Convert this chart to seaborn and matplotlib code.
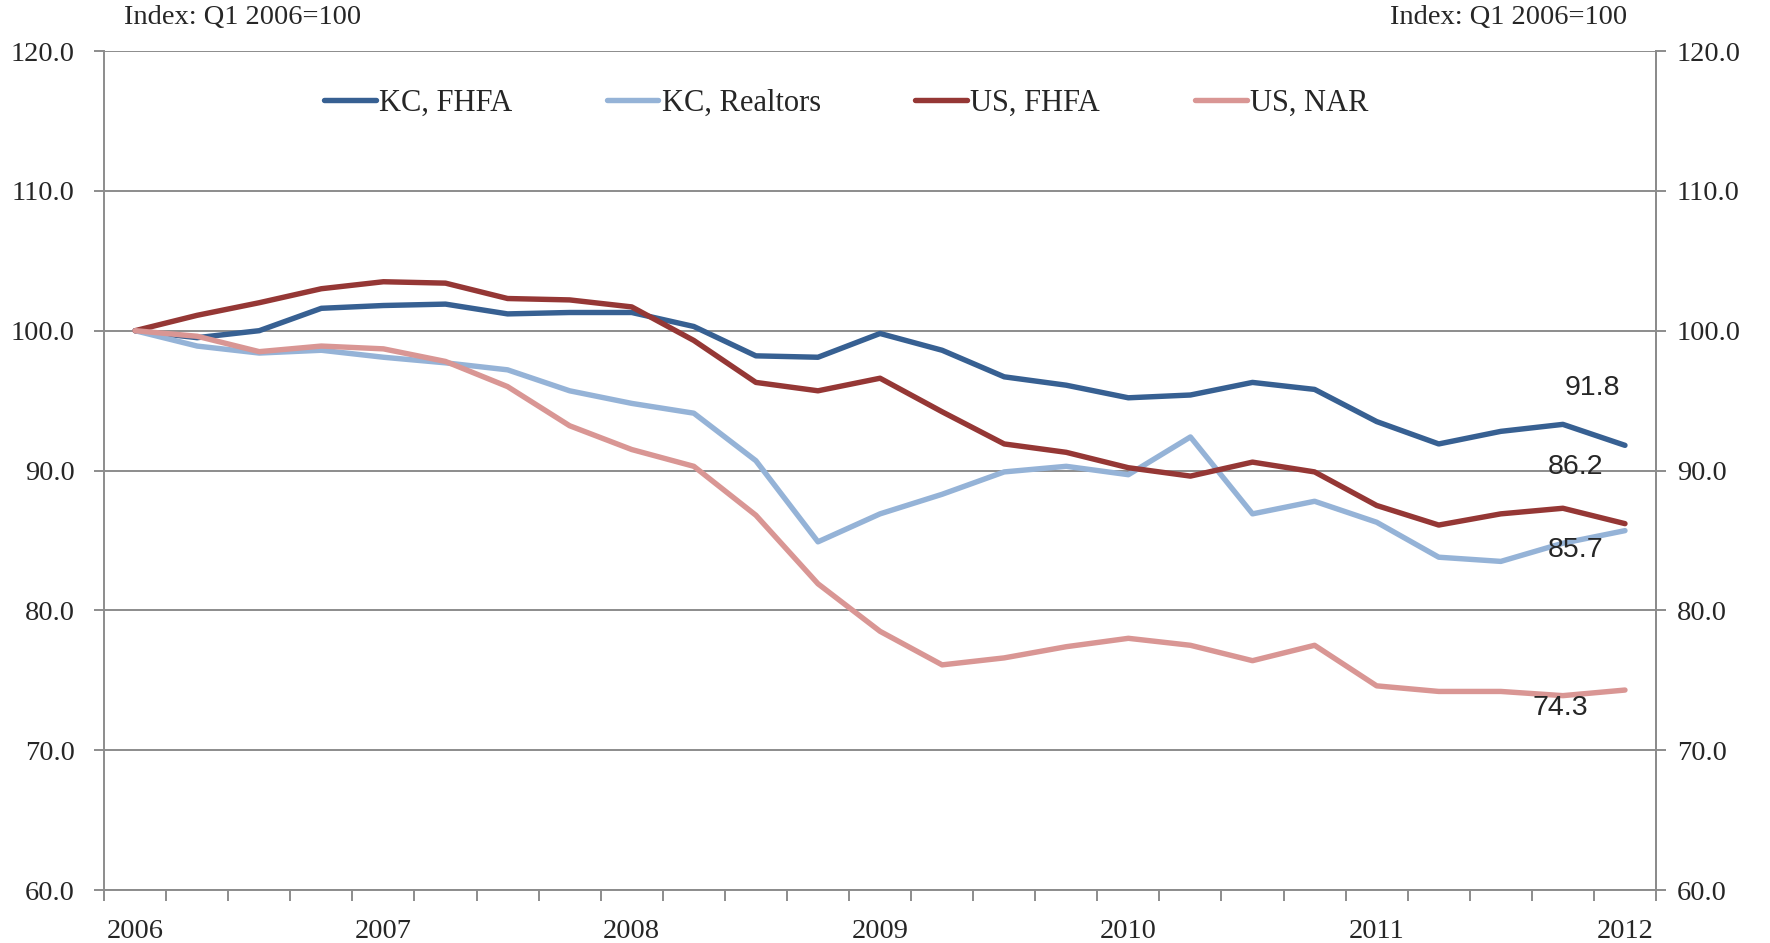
"""Kansas City vs US house price indexes, Q1 2006 = 100."""

import numpy as np
import pandas as pd
import matplotlib
matplotlib.use("Agg")
import matplotlib.pyplot as plt
import seaborn as sns
from matplotlib.ticker import FixedLocator, FormatStrFormatter

# quarterly, Q1 2006 .. Q1 2012
quarters = [f"{y} Q{q}" for y in range(2006, 2012) for q in range(1, 5)] + ["2012 Q1"]
years = ["2006", "2007", "2008", "2009", "2010", "2011", "2012"]

kc_fhfa = [100.0, 99.5, 100.0, 101.6, 101.8, 101.9, 101.2, 101.3, 101.3, 100.3,
           98.2, 98.1, 99.8, 98.6, 96.7, 96.1, 95.2, 95.4, 96.3, 95.8,
           93.5, 91.9, 92.8, 93.3, 91.8]
kc_realtors = [100.0, 98.9, 98.4, 98.6, 98.1, 97.7, 97.2, 95.7, 94.8, 94.1,
               90.7, 84.9, 86.9, 88.3, 89.9, 90.3, 89.7, 92.4, 86.9, 87.8,
               86.3, 83.8, 83.5, 84.8, 85.7]
us_fhfa = [100.0, 101.1, 102.0, 103.0, 103.5, 103.4, 102.3, 102.2, 101.7, 99.3,
           96.3, 95.7, 96.6, 94.2, 91.9, 91.3, 90.2, 89.6, 90.6, 89.9,
           87.5, 86.1, 86.9, 87.3, 86.2]
us_nar = [100.0, 99.6, 98.5, 98.9, 98.7, 97.8, 96.0, 93.2, 91.5, 90.3,
          86.8, 81.9, 78.5, 76.1, 76.6, 77.4, 78.0, 77.5, 76.4, 77.5,
          74.6, 74.2, 74.2, 73.9, 74.3]

series_names = ["KC, FHFA", "KC, Realtors", "US, FHFA", "US, NAR"]
colors = ["#376092", "#95B3D7", "#953735", "#D99694"]

df = pd.DataFrame({
    "t": np.tile(np.arange(len(quarters)), 4),
    "series": np.repeat(series_names, len(quarters)),
    "value": kc_fhfa + kc_realtors + us_fhfa + us_nar,
})

sns.set_theme(style="white")
plt.rcParams["font.family"] = ["Liberation Serif", "DejaVu Serif"]

fig = plt.figure(figsize=(17.7, 9.43), dpi=100)
ax = fig.add_axes([0.0588, 0.0562, 0.9356 - 0.0588, 0.9459 - 0.0562])

sns.lineplot(data=df, x="t", y="value", hue="series", hue_order=series_names,
             palette=colors, linewidth=3.9, ax=ax)

grid_c = "#8c8c8c"
ax.set_xlim(-0.5, len(quarters) - 0.5)
ax.set_ylim(60, 120)
yt = np.arange(60, 121, 10)
ax.set_yticks(yt)
ax.yaxis.set_major_formatter(FormatStrFormatter("%.1f"))
ax.grid(axis="y", color=grid_c, linewidth=1.4)
ax.set_axisbelow(True)

# year labels at Q1, tick marks at quarter boundaries
ax.set_xticks(np.arange(0, len(quarters), 4))
ax.set_xticklabels(years)
ax.xaxis.set_minor_locator(FixedLocator(np.arange(-0.5, len(quarters), 1)))
ax.tick_params(axis="x", which="major", length=0, pad=21, labelsize=20.5)
ax.tick_params(axis="x", which="minor", length=8, width=1.4, color=grid_c, bottom=True)
ax.tick_params(axis="y", length=7, width=1.4, color=grid_c, left=True, pad=14, labelsize=20.5)
ax.set_xlabel("")
ax.set_ylabel("")

ax.spines["top"].set_visible(False)
for s in ["left", "right", "bottom"]:
    ax.spines[s].set_color(grid_c)
    ax.spines[s].set_linewidth(1.4)

ax2 = ax.twinx()
ax2.set_ylim(60, 120)
ax2.set_yticks(yt)
ax2.yaxis.set_major_formatter(FormatStrFormatter("%.1f"))
ax2.tick_params(axis="y", length=7, width=1.4, color=grid_c, right=True, pad=8, labelsize=20.5)
for s in ["top", "left", "bottom"]:
    ax2.spines[s].set_visible(False)
ax2.spines["right"].set_color(grid_c)
ax2.spines["right"].set_linewidth(1.4)
ax2.grid(False)

fig.text(0.070, 0.981, "Index: Q1 2006=100", fontsize=20.5, va="center", ha="left")
fig.text(0.919, 0.981, "Index: Q1 2006=100", fontsize=20.5, va="center", ha="right")

leg = ax.legend(loc="center", bbox_to_anchor=(0.478, 0.9375), ncol=4, frameon=False,
                fontsize=22, handlelength=1.7, handletextpad=0.1, columnspacing=3.1)
for h in leg.get_lines():
    h.set_linewidth(3.9)

# end-of-series value labels
last = len(quarters) - 1
lbl_font = dict(fontsize=20.5, family=["Liberation Sans Narrow", "Liberation Sans", "DejaVu Sans"],
                ha="center", va="center")
ax.text(23.47, 95.9, f"{kc_fhfa[last]:.1f}", **lbl_font)
ax.text(23.2, 90.25, f"{us_fhfa[last]:.1f}", **lbl_font)
ax.text(23.2, 84.35, f"{kc_realtors[last]:.1f}", **lbl_font)
ax.text(22.96, 73.0, f"{us_nar[last]:.1f}", **lbl_font)

fig.savefig("out.png", dpi=100)
